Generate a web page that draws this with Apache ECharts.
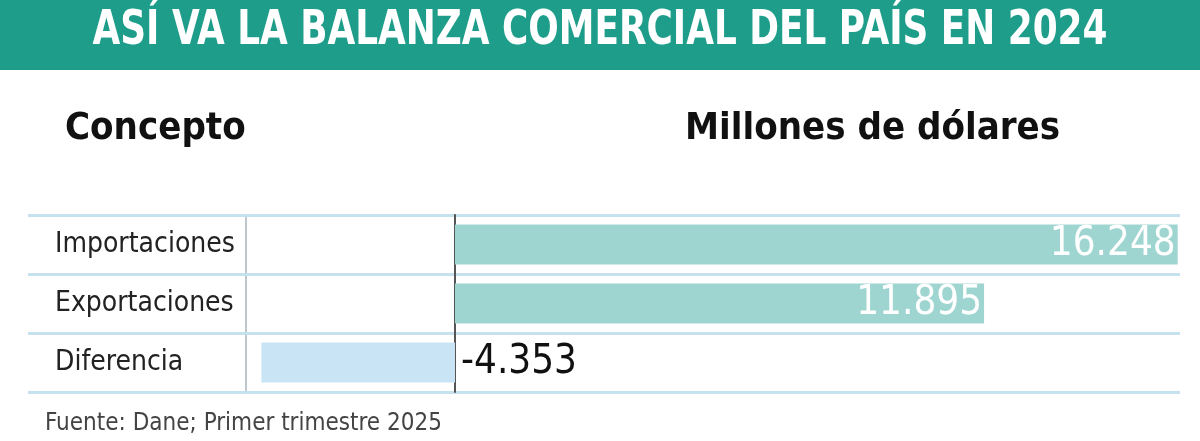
<!DOCTYPE html>
<html>
<head>
<meta charset="utf-8">
<script src="https://cdn.jsdelivr.net/npm/echarts@6/dist/echarts.min.js"></script>
<style>
  html, body { margin: 0; padding: 0; background: #fff; }
  #chart { width: 1200px; height: 441px; }
</style>
</head>
<body>
<div id="chart"></div>
<script>
const concepts = ['Importaciones', 'Exportaciones', 'Diferencia'];
const values = [16248, 11895, -4353];
const valueLabels = ['16.248', '11.895', '-4.353'];

const font = '"Liberation Sans Narrow", "DejaVu Sans Condensed", sans-serif';
const chart = echarts.init(document.getElementById('chart'));

chart.setOption({
    animation: false,
    grid: { left: 28, right: 20, top: 215, bottom: 49, containLabel: false, outerBoundsMode: 'none' },
    xAxis: {
        type: 'value',
        min: -9600,
        max: 16300,
        show: false
    },
    yAxis: [{
        // row labels, drawn inside the grid from its left edge
        type: 'category',
        data: concepts,
        inverse: true,
        position: 'left',
        axisLine: { show: false, onZero: false },
        axisTick: { show: false },
        splitLine: { show: true, lineStyle: { color: '#c6e2ee', width: 3 } },
        axisLabel: {
            inside: true,
            margin: 27,
            fontFamily: font,
            fontSize: 28,
            color: '#222'
        }
    }, {
        // zero line
        type: 'category',
        data: concepts,
        inverse: true,
        axisLine: { onZero: true, lineStyle: { color: '#555', width: 2 } },
        axisTick: { show: false },
        axisLabel: { show: false },
        splitLine: { show: false }
    }],
    series: [{
        type: 'bar',
        barWidth: 40,
        data: values.map((v, i) => ({
            value: v,
            itemStyle: { color: v < 0 ? '#c9e5f5' : '#9fd5d1' },
            label: v < 0
                ? { show: true, position: 'right', distance: 6, color: '#111', fontSize: 40 }
                : { show: true, position: 'insideRight', distance: 2, color: '#fff', fontSize: 40 }
        })),
        label: {
            fontFamily: font,
            formatter: p => valueLabels[p.dataIndex]
        }
    }],
    graphic: [
        { type: 'rect', shape: { x: 0, y: 0, width: 1200, height: 70 }, style: { fill: '#1e9e8a' } },
        { type: 'text', x: 600, y: 8, originX: 0, scaleX: 0.83, style: { text: 'ASÍ VA LA BALANZA COMERCIAL DEL PAÍS EN 2024', align: 'center', fill: '#fff', font: 'bold 48px ' + font } },
        { type: 'text', left: 65, top: 110, style: { text: 'Concepto', fill: '#111', font: 'bold 38px ' + font } },
        { type: 'text', left: 685, top: 110, style: { text: 'Millones de dólares', fill: '#111', font: 'bold 38px ' + font } },
        { type: 'line', shape: { x1: 246, y1: 215, x2: 246, y2: 392 }, style: { stroke: '#bcc8cc', lineWidth: 2 } },
        { type: 'text', left: 45, top: 412, style: { text: 'Fuente: Dane; Primer trimestre 2025', fill: '#444', font: '24px ' + font } }
    ]
});
</script>
</body>
</html>
